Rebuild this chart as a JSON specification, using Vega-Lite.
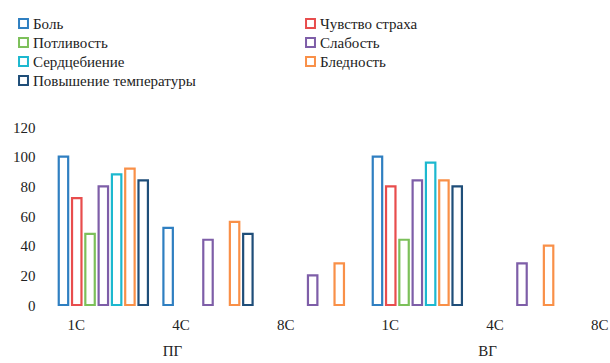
{
  "$schema": "https://vega.github.io/schema/vega-lite/v6.json",
  "padding": {"left": 12, "top": 16, "right": 0, "bottom": 4},
  "data": {
    "values": [
      {"grp": "ПГ", "day": "1C", "sym": "Боль", "val": 100},
      {"grp": "ПГ", "day": "1C", "sym": "Чувство страха", "val": 72},
      {"grp": "ПГ", "day": "1C", "sym": "Потливость", "val": 48},
      {"grp": "ПГ", "day": "1C", "sym": "Слабость", "val": 80},
      {"grp": "ПГ", "day": "1C", "sym": "Сердцебиение", "val": 88},
      {"grp": "ПГ", "day": "1C", "sym": "Бледность", "val": 92},
      {"grp": "ПГ", "day": "1C", "sym": "Повышение температуры", "val": 84},
      {"grp": "ПГ", "day": "4C", "sym": "Боль", "val": 52},
      {"grp": "ПГ", "day": "4C", "sym": "Слабость", "val": 44},
      {"grp": "ПГ", "day": "4C", "sym": "Бледность", "val": 56},
      {"grp": "ПГ", "day": "4C", "sym": "Повышение температуры", "val": 48},
      {"grp": "ПГ", "day": "8C", "sym": "Слабость", "val": 20},
      {"grp": "ПГ", "day": "8C", "sym": "Бледность", "val": 28},
      {"grp": "ВГ", "day": "1C", "sym": "Боль", "val": 100},
      {"grp": "ВГ", "day": "1C", "sym": "Чувство страха", "val": 80},
      {"grp": "ВГ", "day": "1C", "sym": "Потливость", "val": 44},
      {"grp": "ВГ", "day": "1C", "sym": "Слабость", "val": 84},
      {"grp": "ВГ", "day": "1C", "sym": "Сердцебиение", "val": 96},
      {"grp": "ВГ", "day": "1C", "sym": "Бледность", "val": 84},
      {"grp": "ВГ", "day": "1C", "sym": "Повышение температуры", "val": 80},
      {"grp": "ВГ", "day": "4C", "sym": "Слабость", "val": 28},
      {"grp": "ВГ", "day": "4C", "sym": "Бледность", "val": 40}
    ]
  },
  "spacing": 0,
  "resolve": {"scale": {"x": "independent", "y": "shared", "stroke": "shared"}},
  "hconcat": [
    {
      "width": 314,
      "height": 178,
      "transform": [{"filter": "datum.grp === 'ПГ'"}],
      "mark": {"type": "bar", "fill": "white", "strokeWidth": 2.2},
      "encoding": {
        "x": {
          "field": "day", "type": "nominal",
          "scale": {"domain": ["1C", "4C", "8C"], "paddingInner": 0.148, "paddingOuter": 0.074},
          "axis": {"title": "ПГ", "titleX": 121, "labelOffset": -27, "labelAngle": 0, "domain": false, "ticks": false, "labelPadding": 12, "titlePadding": 11}
        },
        "xOffset": {
          "field": "sym", "type": "nominal",
          "scale": {"domain": ["Боль", "Чувство страха", "Потливость", "Слабость", "Сердцебиение", "Бледность", "Повышение температуры"], "paddingInner": 0.29, "paddingOuter": 0}
        },
        "y": {
          "field": "val", "type": "quantitative",
          "scale": {"domain": [0, 120]},
          "axis": {"values": [0, 20, 40, 60, 80, 100, 120], "grid": false, "domain": false, "ticks": false, "title": null, "labelPadding": 16}
        },
        "stroke": {
          "field": "sym", "type": "nominal",
          "scale": {
            "domain": ["Боль", "Потливость", "Сердцебиение", "Повышение температуры", "Чувство страха", "Слабость", "Бледность"],
            "range": ["#2f7fc1", "#7cc05a", "#1cb8cf", "#1f4e79", "#e84d4d", "#7e5ea8", "#f99048"]
          },
          "legend": {
            "title": null, "orient": "none", "legendX": -35, "legendY": -111,
            "direction": "vertical", "columns": 2,
            "gridAlign": "all", "columnPadding": 106, "rowPadding": 2,
            "symbolType": "square", "symbolSize": 80, "symbolStrokeWidth": 2, "symbolFillColor": "white",
            "labelFontSize": 15, "labelOffset": 2, "labelColor": "#222", "labelLimit": 400
          }
        }
      }
    },
    {
      "width": 245,
      "height": 178,
      "transform": [{"filter": "datum.grp === 'ВГ'"}],
      "mark": {"type": "bar", "fill": "white", "strokeWidth": 2.2},
      "encoding": {
        "x": {
          "field": "day", "type": "nominal",
          "scale": {"domain": ["1C", "4C", "8C"], "paddingInner": 0.148, "paddingOuter": 0.074, "range": [0, 314]},
          "axis": {"title": "ВГ", "titleX": 122, "labelOffset": -27, "labelAngle": 0, "domain": false, "ticks": false, "labelPadding": 12, "titlePadding": 11}
        },
        "xOffset": {
          "field": "sym", "type": "nominal",
          "scale": {"domain": ["Боль", "Чувство страха", "Потливость", "Слабость", "Сердцебиение", "Бледность", "Повышение температуры"], "paddingInner": 0.29, "paddingOuter": 0}
        },
        "y": {
          "field": "val", "type": "quantitative",
          "scale": {"domain": [0, 120]},
          "axis": null
        },
        "stroke": {"field": "sym", "type": "nominal"}
      }
    }
  ],
  "config": {
    "view": {"stroke": null},
    "font": "Liberation Serif, Times New Roman, serif",
    "axis": {"labelFontSize": 15, "labelColor": "#222", "titleFontSize": 15, "titleFontWeight": "normal", "titleColor": "#222"}
  }
}
